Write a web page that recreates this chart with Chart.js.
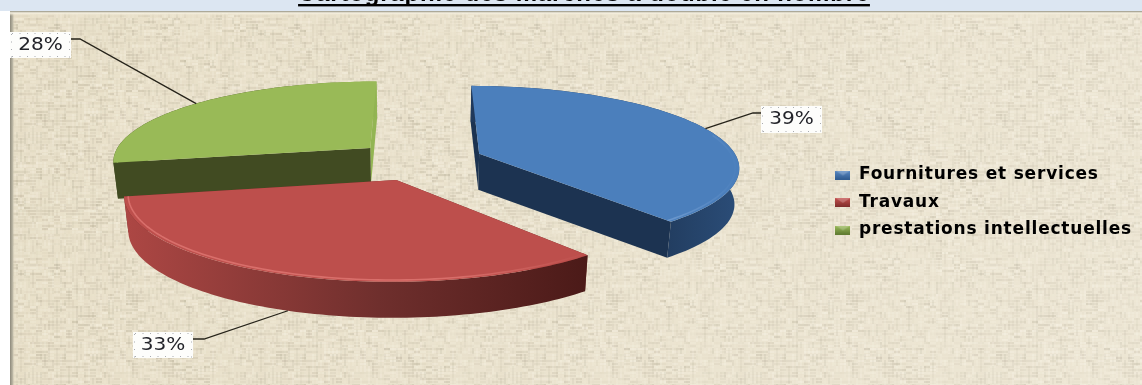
<!DOCTYPE html>
<html lang="fr">
<head>
<meta charset="utf-8">
<title>Cartographie des marchés</title>
<script src="https://cdn.jsdelivr.net/npm/chart.js@4/dist/chart.umd.min.js"></script>
<style>
    html, body { margin: 0; padding: 0; background: #fff; overflow: hidden; }
    #chart-box { position: relative; width: 1142px; height: 385px; }
</style>
</head>
<body>
<div id="chart-box"><canvas id="marchesChart"></canvas></div>
<script>
const titleText = 'Cartographie des marchés à double en nombre';
const categories = ['Fournitures et services', 'Travaux', 'prestations intellectuelles'];
const shares = [39, 33, 28];

const faceColors = ['#4b7fbc', '#bd4f4c', '#99ba57'];
const cutColors = ['#1c3351', '#6e2c2a', '#414b22'];
const sideCutColors = ['#1c3351', '#6e2c2a', '#93b553'];
// outer wall runs dark to the right, left-hand stop first
const wallColors = [
    ['#20395b', '#1c3351', '#2b4d78'],
    ['#ad4744', '#6f2f2d', '#4b1a18'],
    ['#414b22', '#414b22', '#93b553']
];
const rimColors = ['#6f9bd0', '#d96f6b', '#99ba57'];
const legendIconColors = [['#5a8ac4', '#2f5a8e'], ['#c4504e', '#7e2d2b'], ['#9dbd5c', '#5f7a30']];
const textSpacing = '0.8px';

// Pie seen from above: disc units to pixels, nearer edge drawn larger
const view = { cx: 419, cy: 160.5, sx: 259, sy: 80, persp: 0.15, explode: 0.25, depth: 36, floorScale: 0.985 };

// Value tags and the elbow where each leader line meets its tag
const tagBoxes = [
    { x: 761, y: 106, w: 61, h: 27, elbowX: 753, elbowY: 113, endX: 761, endY: 113, onFloor: false },
    { x: 133, y: 332, w: 60, h: 26, elbowX: 204, elbowY: 339, endX: 193, endY: 339, onFloor: true },
    { x: 10, y: 32, w: 61, h: 26, elbowX: 80, elbowY: 39, endX: 71, endY: 39, onFloor: false }
];

function project(u, v, onFloor) {
    const w = 1 - view.persp * v;
    let x = view.cx + u * view.sx / w;
    let y = view.cy + v * view.sy / w;
    if (onFloor) {
        x = view.cx + (x - view.cx) * view.floorScale;
        y += view.depth;
    }
    return { x, y };
}

// Point on a slice, pushed away from the centre along the slice's middle angle
function slicePoint(arc, angle, radius, onFloor) {
    const mid = (arc.startAngle + arc.endAngle) / 2;
    const u = view.explode * Math.cos(mid) + radius * Math.cos(angle);
    const v = view.explode * Math.sin(mid) + radius * Math.sin(angle);
    return project(u, v, onFloor);
}

function arcPoints(arc, radius, onFloor, from, to) {
    const pts = [];
    const a0 = from === undefined ? arc.startAngle : from;
    const a1 = to === undefined ? arc.endAngle : to;
    const steps = 90;
    for (let i = 0; i <= steps; i++) {
        pts.push(slicePoint(arc, a0 + (a1 - a0) * i / steps, radius, onFloor));
    }
    return pts;
}

function fillPoly(ctx, pts, fill) {
    ctx.beginPath();
    pts.forEach((p, i) => (i ? ctx.lineTo(p.x, p.y) : ctx.moveTo(p.x, p.y)));
    ctx.closePath();
    ctx.fillStyle = fill;
    ctx.fill();
}

function drawSlice(ctx, arc, i) {
    const apexTop = slicePoint(arc, 0, 0, false);
    const apexFloor = slicePoint(arc, 0, 0, true);
    const startTop = slicePoint(arc, arc.startAngle, 1, false);
    const startFloor = slicePoint(arc, arc.startAngle, 1, true);
    const endTop = slicePoint(arc, arc.endAngle, 1, false);
    const endFloor = slicePoint(arc, arc.endAngle, 1, true);
    const top = arcPoints(arc, 1, false);
    const floor = arcPoints(arc, 1, true);

    // Cut faces first, the top face hides whatever lies behind it
    fillPoly(ctx, [apexTop, endTop, endFloor, apexFloor], sideCutColors[i]);
    fillPoly(ctx, [apexTop, startTop, startFloor, apexFloor], cutColors[i]);

    const xs = top.map(p => p.x);
    const wall = ctx.createLinearGradient(Math.min(...xs), 0, Math.max(...xs), 0);
    wall.addColorStop(0, wallColors[i][0]);
    wall.addColorStop(0.55, wallColors[i][1]);
    wall.addColorStop(1, wallColors[i][2]);
    fillPoly(ctx, top.concat(floor.slice().reverse()), wall);

    fillPoly(ctx, [apexTop].concat(top), faceColors[i]);

    // Soft highlight just inside the rim, on the side facing the viewer only
    const rimFrom = Math.max(arc.startAngle, -0.25);
    const rimTo = Math.min(arc.endAngle, Math.PI);
    const rim = arcPoints(arc, 0.985, false, rimFrom, rimTo);
    const rimFade = ctx.createLinearGradient(Math.min(...xs), 0, Math.max(...xs), 0);
    rimFade.addColorStop(0, rimColors[i]);
    rimFade.addColorStop(0.7, rimColors[i]);
    rimFade.addColorStop(1, faceColors[i]);
    ctx.beginPath();
    rim.forEach((p, k) => (k ? ctx.lineTo(p.x, p.y) : ctx.moveTo(p.x, p.y)));
    ctx.strokeStyle = rimFade;
    ctx.lineWidth = 1.6;
    ctx.stroke();
}

function drawTag(ctx, arc, i, share) {
    const tag = tagBoxes[i];
    const mid = (arc.startAngle + arc.endAngle) / 2;
    const anchor = slicePoint(arc, mid, 1, tag.onFloor);

    ctx.beginPath();
    ctx.moveTo(anchor.x, anchor.y);
    ctx.lineTo(tag.elbowX, tag.elbowY);
    ctx.lineTo(tag.endX, tag.endY);
    ctx.strokeStyle = '#26231a';
    ctx.lineWidth = 1.3;
    ctx.stroke();

    ctx.fillStyle = '#fdfdfb';
    ctx.fillRect(tag.x, tag.y, tag.w, tag.h);

    // Dotted frame around the tag
    ctx.fillStyle = '#a9abb0';
    for (let x = tag.x + 2; x < tag.x + tag.w; x += 7.5) {
        ctx.fillRect(x, tag.y + 1, 1, 1);
        ctx.fillRect(x, tag.y + tag.h - 2, 1, 1);
    }
    for (let y = tag.y + 2; y < tag.y + tag.h; y += 7.5) {
        ctx.fillRect(tag.x + 1, y, 1, 1);
        ctx.fillRect(tag.x + tag.w - 2, y, 1, 1);
    }

    // Tag text is wider than the font draws it
    ctx.save();
    ctx.letterSpacing = '0px';
    ctx.translate(tag.x + tag.w / 2, tag.y + tag.h / 2 + 0.5);
    ctx.scale(1.18, 1);
    ctx.fillStyle = '#23242a';
    ctx.font = '17px "DejaVu Sans"';
    ctx.textAlign = 'center';
    ctx.textBaseline = 'middle';
    ctx.fillText(share + '%', 0, 0);
    ctx.restore();
}

const pie3d = {
    id: 'pie3d',
    beforeDatasetsDraw(chart) {
        const ctx = chart.ctx;
        const arcs = chart.getDatasetMeta(0).data;
        // back slice first, the front slice overlaps it
        ctx.save();
        [2, 0, 1].forEach(i => drawSlice(ctx, arcs[i], i));
        arcs.forEach((arc, i) => drawTag(ctx, arc, i, shares[i]));
        ctx.restore();
        return false;
    }
};

// Woven linen tile, threads shaded with a small repeatable hash
function linenTile() {
    const size = 240;
    const raw = document.createElement('canvas');
    raw.width = raw.height = size;
    const g = raw.getContext('2d');
    const hash = (a, b) => {
        const s = Math.sin(a * 12.9898 + b * 78.233) * 43758.5453;
        return s - Math.floor(s);
    };
    g.fillStyle = '#e8dfc8';
    g.fillRect(0, 0, size, size);
    for (let row = 0; row < size; row += 3) {
        for (let col = 0; col < size; col += 6) {
            const h = hash(row, col);
            const patch = hash(Math.floor(row / 18), Math.floor(col / 36));
            const alpha = (h - 0.45) * 0.3 * (0.5 + patch);
            g.fillStyle = alpha > 0 ? `rgba(140,130,105,${alpha})` : `rgba(255,252,240,${-alpha * 1.6})`;
            g.fillRect(col, row, 6, 2);
        }
    }
    for (let col = 0; col < size; col += 4) {
        for (let row = 0; row < size; row += 6) {
            const h = hash(col + 400, row + 7);
            const alpha = (h - 0.5) * 0.26;
            g.fillStyle = alpha > 0 ? `rgba(135,128,105,${alpha})` : `rgba(255,252,240,${-alpha * 1.6})`;
            g.fillRect(col, row, 2, 6);
        }
    }
    const soft = document.createElement('canvas');
    soft.width = soft.height = size;
    const sg = soft.getContext('2d');
    sg.filter = 'blur(0.7px)';
    sg.drawImage(raw, 0, 0);
    return soft;
}

const backdrop = {
    id: 'backdrop',
    beforeLayout(chart) {
        // Legend and title are set wide; measuring needs the same spacing as drawing
        chart.ctx.letterSpacing = textSpacing;
    },
    beforeDraw(chart) {
        const ctx = chart.ctx;
        const { width, height } = chart;
        ctx.letterSpacing = textSpacing;
        ctx.save();
        ctx.fillStyle = '#ffffff';
        ctx.fillRect(0, 0, width, height);
        ctx.fillStyle = '#dce6f2';
        ctx.fillRect(0, 0, width, 11);

        ctx.fillStyle = ctx.createPattern(linenTile(), 'repeat');
        ctx.fillRect(10, 11, width - 10, height - 11);

        const glow = ctx.createLinearGradient(0, 0, width, height);
        glow.addColorStop(0, 'rgba(255,255,255,0)');
        glow.addColorStop(1, 'rgba(255,255,255,0.22)');
        ctx.fillStyle = glow;
        ctx.fillRect(10, 11, width - 10, height - 11);

        // Bevelled frame, top and left only
        const left = ctx.createLinearGradient(10, 0, 15, 0);
        left.addColorStop(0, '#8d897b');
        left.addColorStop(0.5, '#b9b4a2');
        left.addColorStop(1, 'rgba(233,224,200,0)');
        ctx.fillStyle = left;
        ctx.fillRect(10, 11, 5, height - 11);
        const upper = ctx.createLinearGradient(0, 11, 0, 16);
        upper.addColorStop(0, '#94917f');
        upper.addColorStop(0.4, '#f6f1e2');
        upper.addColorStop(1, 'rgba(233,224,200,0)');
        ctx.fillStyle = upper;
        ctx.fillRect(10, 11, width - 10, 5);
        ctx.restore();
    },
    afterDraw(chart) {
        // The title plugin has no underline of its own
        const ctx = chart.ctx;
        const block = chart.titleBlock;
        ctx.save();
        ctx.font = Chart.helpers.toFont(block.options.font).string;
        const w = ctx.measureText(titleText).width;
        ctx.fillStyle = '#000';
        ctx.fillRect(block.left + block.width / 2 - w / 2, 4, w, 2.4);
        ctx.restore();
    }
};

function legendIcon(colors) {
    const c = document.createElement('canvas');
    c.width = 15;
    c.height = 9;
    const g = c.getContext('2d');
    const grad = g.createLinearGradient(0, 0, 0, 9);
    grad.addColorStop(0, colors[0]);
    grad.addColorStop(1, colors[1]);
    g.fillStyle = grad;
    g.fillRect(0, 0, 15, 9);
    g.fillStyle = 'rgba(255,255,255,0.22)';
    g.beginPath();
    g.moveTo(0, 0);
    g.lineTo(15, 0);
    g.lineTo(7.5, 5);
    g.closePath();
    g.fill();
    return c;
}

new Chart(document.getElementById('marchesChart'), {
    type: 'pie',
    data: {
        labels: categories,
        datasets: [{
            data: shares,
            backgroundColor: faceColors,
            borderWidth: 0
        }]
    },
    options: {
        responsive: true,
        maintainAspectRatio: false,
        animation: false,
        // top padding centres the legend; the title is pulled back up with its own padding
        layout: { padding: { right: 0, top: 20, bottom: 0, left: 26 } },
        plugins: {
            tooltip: { enabled: false },
            title: {
                display: true,
                text: titleText,
                color: '#000',
                font: { family: '"Liberation Sans"', size: 24, weight: 'bold' },
                padding: { top: -40, bottom: 40 }
            },
            legend: {
                position: 'right',
                labels: {
                    usePointStyle: true,
                    pointStyleWidth: 15,
                    boxHeight: 9,
                    padding: 10.5,
                    color: '#141414',
                    font: { family: '"DejaVu Sans"', size: 17, weight: 'bold' },
                    generateLabels: () => categories.map((name, i) => ({
                        text: name,
                        fillStyle: faceColors[i],
                        strokeStyle: faceColors[i],
                        lineWidth: 0,
                        pointStyle: legendIcon(legendIconColors[i]),
                        index: i
                    }))
                }
            }
        }
    },
    plugins: [backdrop, pie3d]
});
</script>
</body>
</html>
